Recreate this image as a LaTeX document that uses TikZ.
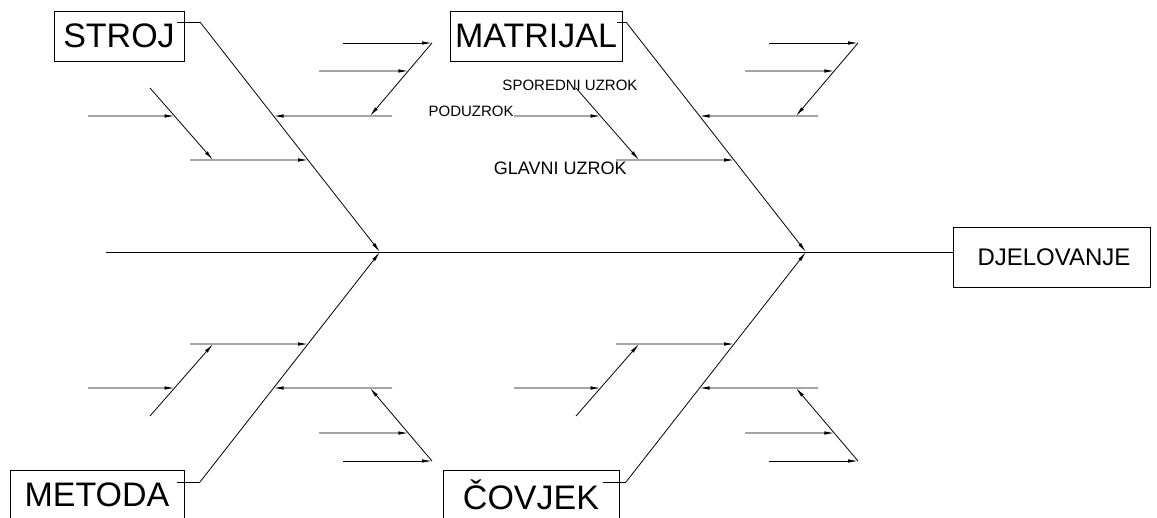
\documentclass[tikz,border=0pt]{standalone}
\usepackage{fontspec}
\setmainfont{Liberation Sans}
\usetikzlibrary{arrows.meta}
\tikzset{
  bone/.style={-{Latex[length=10pt,width=3.5pt]}},
  cause/.style={draw,minimum height=50pt,inner sep=0pt,font=\fontsize{34}{40}\selectfont},
  effect/.style={draw,minimum width=197pt,minimum height=60pt,font=\fontsize{24}{28}\selectfont},
  note/.style={inner sep=0pt,font=\fontsize{15}{18}\selectfont}
}
\begin{document}
\begin{tikzpicture}[x=1pt,y=1pt,line width=0.8pt]
\useasboundingbox (0,-265) rectangle (1157,252);
% effect and spine
\node[effect] (eff) at (1051.5,-5) {\hspace*{5pt}DJELOVANJE};
\coordinate (tail) at (106,0);
\draw (tail) -- (tail -| eff.west);
% cause boxes
\node[cause,minimum width=130pt] (stroj) at (119,216) {STROJ};
\node[cause,minimum width=172pt] (matrijal) at (536,216) {MATRIJAL};
\node[cause,minimum width=174pt] (metoda) at (97,-243) {METODA};
\node[cause,minimum width=176pt] (covjek) at (531,-243) {ČOVJEK};
% bones: name / shift / mirror / leader start
\foreach \k/\dx/\sy/\lx in {s/0/1/177, m/426/1/191, e/0/-1/177, c/426/-1/177}{
  \begin{scope}[xshift=\dx pt,yscale=\sy]
    \coordinate (\k-l0) at (\lx,230);
    \coordinate (\k-l1) at (200,230);
    \coordinate (\k-j) at (380,0);
    \coordinate (\k-a) at (190,92);
    \coordinate (\k-b) at (392,136);
    \coordinate (\k-c) at (150,164);
    \coordinate (\k-cc) at (213,92);
    \coordinate (\k-d) at (88,136);
    \coordinate (\k-e) at (432,209);
    \coordinate (\k-ee) at (370,136);
    \coordinate (\k-f) at (343,209);
    \coordinate (\k-g) at (319,181);
    \coordinate (\k-gg) at (432,181);
  \end{scope}
  \draw (\k-l0) -- (\k-l1);
  \draw[bone] (\k-l1) -- (\k-j);
  \draw[bone] (\k-a) -- (intersection of \k-l1--\k-j and \k-a--\k-cc);
  \draw[bone] (\k-b) -- (intersection of \k-l1--\k-j and \k-b--\k-ee);
  \draw[bone] (\k-c) -- (\k-cc);
  \draw[bone] (\k-d) -- (intersection of \k-c--\k-cc and \k-d--\k-b);
  \draw[bone] (\k-e) -- (\k-ee);
  \draw[bone] (\k-f) -- (\k-e);
  \draw[bone] (\k-g) -- (intersection of \k-e--\k-ee and \k-g--\k-gg);
}
% legend on the MATRIJAL bone
\node[note,anchor=base east] (pod) at (m-d) {PODUZROK};
\node[note,anchor=base] (spor) at ([xshift=-6pt,yshift=-2pt]m-c) {SPOREDNI UZROK};
\node[note,font=\fontsize{18}{22}\selectfont,anchor=north east] (glav) at ([xshift=11pt,yshift=-2pt]m-a) {GLAVNI UZROK};
\end{tikzpicture}
\end{document}
